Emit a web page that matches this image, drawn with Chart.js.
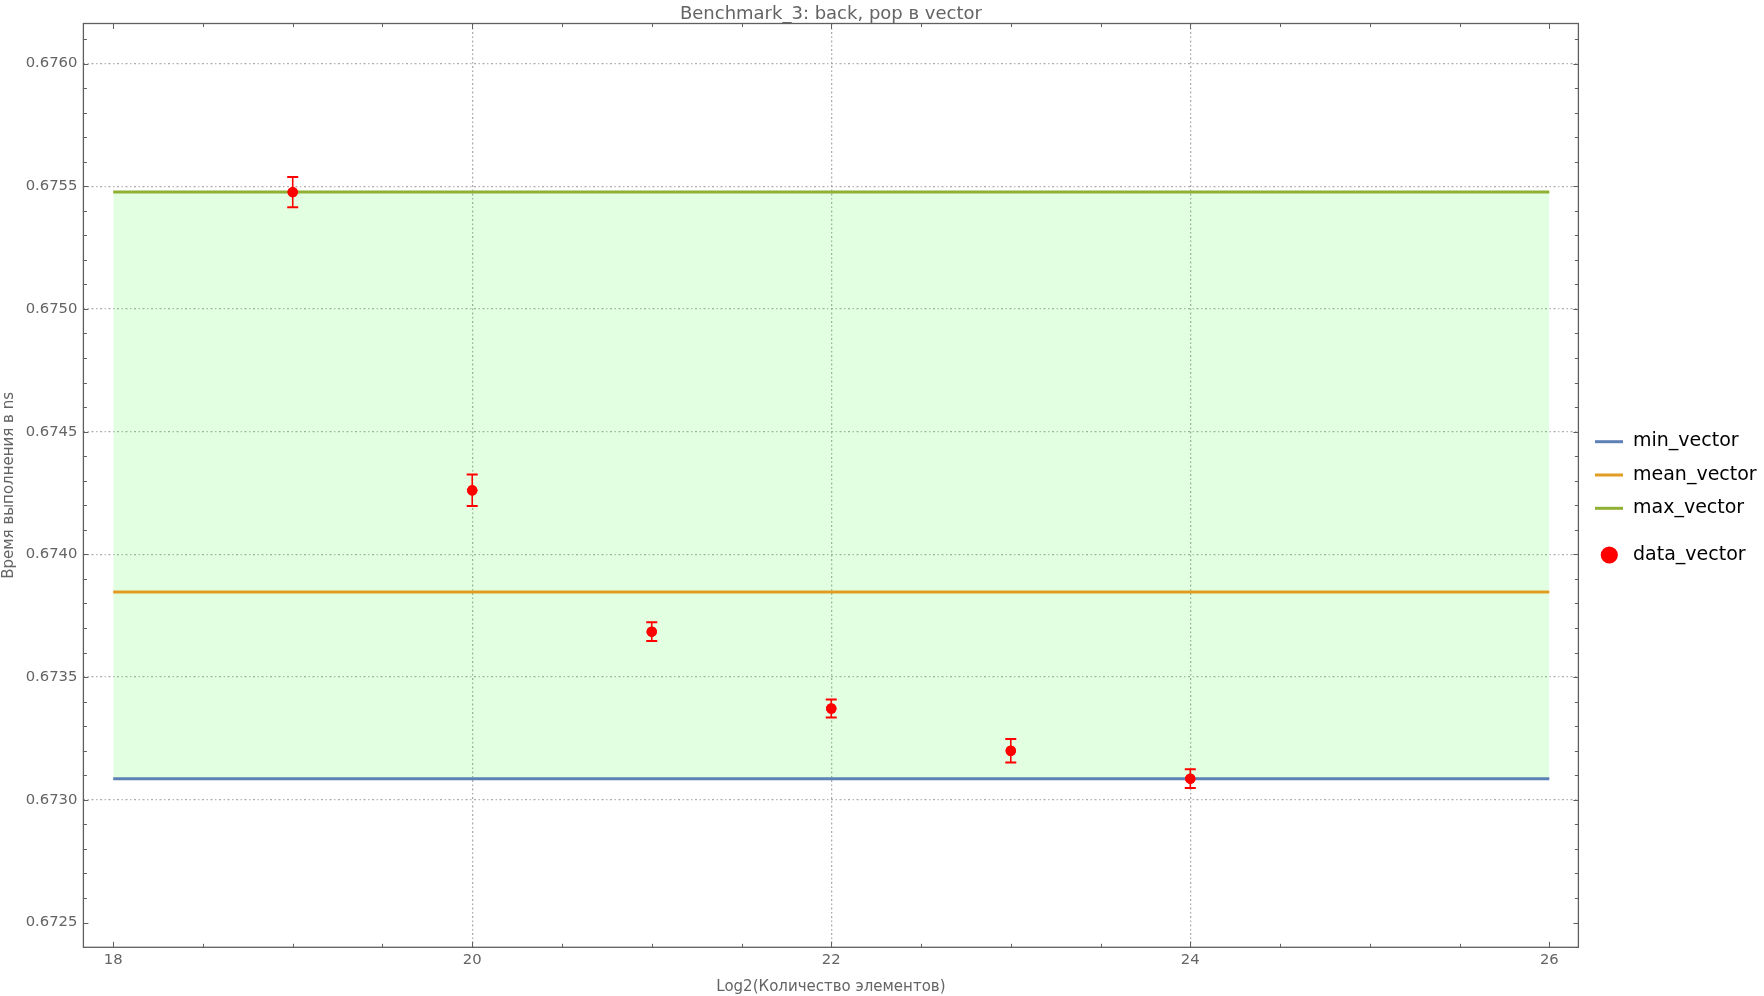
<!DOCTYPE html>
<html>
<head>
<meta charset="utf-8">
<script src="https://cdn.jsdelivr.net/npm/chart.js@4.4.1/dist/chart.umd.min.js"></script>
<style>
  html, body { margin: 0; padding: 0; background: #ffffff; }
  #wrap { width: 1764px; height: 996px; }
</style>
</head>
<body>
<div id="wrap"><canvas id="c" width="1764" height="996"></canvas></div>
<script>
// ---------- data ----------
const chartTitle = "Benchmark_3: back, pop в vector";
const xTitle = "Log2(Количество элементов)";
const yTitle = "Время выполнения в ns";

const xValues   = [19, 20, 21, 22, 23, 24];
const dataVector = [0.675476, 0.674261, 0.673685, 0.673372, 0.673200, 0.673086];
const errVector  = [0.000062, 0.000064, 0.000038, 0.000037, 0.000048, 0.000038];

const lineX      = [18, 26];
const minVector  = [0.673086, 0.673086];
const meanVector = [0.673847, 0.673847];
const maxVector  = [0.675476, 0.675476];

const xTickValues = [18, 20, 22, 24, 26];
const xTickLabels = ["18", "20", "22", "24", "26"];
const yTickValues = [0.6725, 0.6730, 0.6735, 0.6740, 0.6745, 0.6750, 0.6755, 0.6760];
const yTickLabels = ["0.6725", "0.6730", "0.6735", "0.6740", "0.6745", "0.6750", "0.6755", "0.6760"];
const xGridValues = [20, 22, 24];
const yGridValues = [0.6730, 0.6735, 0.6740, 0.6745, 0.6750, 0.6755, 0.6760];

const seriesLabels = ["data_vector", "min_vector", "mean_vector", "max_vector"];

// ---------- styling ----------
const FONT = "'DejaVu Sans', 'Liberation Sans', sans-serif";
const GRAY_TEXT = "#646464";
const FRAME = "#5f5f5f";
const GRID = "#acacac";
const C_MIN = "#5E81B5", C_MEAN = "#E19C24", C_MAX = "#8FB032", C_DATA = "#FF0000";

Chart.defaults.font.family = FONT;
Chart.defaults.color = GRAY_TEXT;

const toPts = (xs, ys) => xs.map((x, i) => ({ x: x, y: ys[i] }));

// error bars plugin
const errorBars = {
  id: 'errorBars',
  afterDatasetsDraw(chart) {
    const meta = chart.getDatasetMeta(0);
    const ys = chart.scales.y;
    const ctx = chart.ctx;
    ctx.save();
    ctx.strokeStyle = C_DATA;
    meta.data.forEach((pt, i) => {
      const x = pt.x;
      const yTop = ys.getPixelForValue(dataVector[i] + errVector[i]);
      const yBot = ys.getPixelForValue(dataVector[i] - errVector[i]);
      ctx.lineWidth = 1.6;
      ctx.beginPath(); ctx.moveTo(x, yTop); ctx.lineTo(x, yBot); ctx.stroke();
      ctx.lineWidth = 2;
      ctx.beginPath();
      ctx.moveTo(x - 5.5, yTop); ctx.lineTo(x + 5.5, yTop);
      ctx.moveTo(x - 5.5, yBot); ctx.lineTo(x + 5.5, yBot);
      ctx.stroke();
    });
    // redraw points on top
    ctx.fillStyle = C_DATA;
    meta.data.forEach((pt) => {
      ctx.beginPath(); ctx.arc(pt.x, pt.y, 5.2, 0, Math.PI * 2); ctx.fill();
    });
    ctx.restore();
  }
};

// frame, ticks, title, legend
const decor = {
  id: 'decor',
  afterDraw(chart) {
    const ctx = chart.ctx;
    const a = chart.chartArea;
    const xs = chart.scales.x, ys = chart.scales.y;
    ctx.save();
    // frame
    ctx.strokeStyle = FRAME;
    ctx.lineWidth = 1.3;
    ctx.strokeRect(a.left, a.top, a.right - a.left, a.bottom - a.top);
    // x ticks (top & bottom, inside)
    ctx.lineWidth = 1;
    ctx.beginPath();
    for (let k = 0; k <= 16; k++) {
      const v = 18 + k * 0.5;
      const px = Math.round(xs.getPixelForValue(v)) + 0.5;
      const len = (k % 4 === 0) ? 5.5 : 3.5;
      ctx.moveTo(px, a.bottom); ctx.lineTo(px, a.bottom - len);
      ctx.moveTo(px, a.top); ctx.lineTo(px, a.top + len);
    }
    // y ticks (left & right, inside)
    for (let k = 0; k <= 37; k++) {
      const v = 0.6724 + k * 0.0001;
      const py = ys.getPixelForValue(v);
      if (py < a.top || py > a.bottom) continue;
      const pyr = Math.round(py) + 0.5;
      const major = (k % 5 === 1);
      const len = major ? 5 : 3.5;
      ctx.moveTo(a.left, pyr); ctx.lineTo(a.left + len, pyr);
      ctx.moveTo(a.right, pyr); ctx.lineTo(a.right - len, pyr);
    }
    ctx.stroke();

    // title
    ctx.fillStyle = GRAY_TEXT;
    ctx.font = "18px " + FONT;
    ctx.textAlign = 'center';
    ctx.textBaseline = 'alphabetic';
    ctx.fillText(chartTitle, (a.left + a.right) / 2, 18.5);

    // legend
    const ds = chart.data.datasets;
    const lx0 = 1595, lx1 = 1623, tx = 1633;
    const rows = [
      { i: 1, y: 441.7 },
      { i: 2, y: 475 },
      { i: 3, y: 508.3 }
    ];
    ctx.font = "19px " + FONT;
    ctx.textAlign = 'left';
    rows.forEach(r => {
      ctx.strokeStyle = ds[r.i].borderColor;
      ctx.lineWidth = 3;
      ctx.beginPath(); ctx.moveTo(lx0, r.y); ctx.lineTo(lx1, r.y); ctx.stroke();
      ctx.fillStyle = '#000000';
      ctx.fillText(ds[r.i].label, tx, r.y + 4.7);
    });
    ctx.fillStyle = ds[0].backgroundColor;
    ctx.beginPath(); ctx.arc(1609.3, 555, 8.6, 0, Math.PI * 2); ctx.fill();
    ctx.fillStyle = '#000000';
    ctx.fillText(ds[0].label, tx, 555 + 4.7);
    ctx.restore();
  }
};

const ctxEl = document.getElementById('c');
new Chart(ctxEl, {
  type: 'scatter',
  data: {
    datasets: [
      {
        label: seriesLabels[0],
        data: toPts(xValues, dataVector),
        backgroundColor: C_DATA,
        borderColor: C_DATA,
        pointRadius: 5.2,
        pointBorderWidth: 0,
        showLine: false
      },
      {
        label: seriesLabels[1],
        type: 'line',
        data: toPts(lineX, minVector),
        borderColor: C_MIN,
        borderWidth: 3,
        pointRadius: 0,
        fill: false
      },
      {
        label: seriesLabels[2],
        type: 'line',
        data: toPts(lineX, meanVector),
        borderColor: C_MEAN,
        borderWidth: 3,
        pointRadius: 0,
        fill: false
      },
      {
        label: seriesLabels[3],
        type: 'line',
        data: toPts(lineX, maxVector),
        borderColor: C_MAX,
        borderWidth: 3,
        pointRadius: 0,
        fill: { target: 1 },
        backgroundColor: 'rgba(0,255,0,0.115)'
      }
    ]
  },
  options: {
    responsive: false,
    animation: false,
    devicePixelRatio: 1,
    layout: { padding: { left: 0, right: 185.6, top: 23.5, bottom: 0 } },
    plugins: {
      legend: { display: false },
      title: { display: false },
      tooltip: { enabled: false },
      filler: { drawTime: 'beforeDatasetsDraw' }
    },
    scales: {
      x: {
        type: 'linear',
        min: 17.834,
        max: 26.162,
        afterFit(scale) { scale.height = 48.7; },
        afterBuildTicks(scale) { scale.ticks = xTickValues.map(v => ({ value: v })); },
        ticks: {
          padding: 4,
          font: { size: 14.8 },
          color: GRAY_TEXT,
          maxRotation: 0,
          autoSkip: false,
          callback: (v) => { const i = xTickValues.indexOf(v); return i >= 0 ? xTickLabels[i] : ''; }
        },
        grid: {
          drawTicks: false,
          lineWidth: 1.3,
          color: (c) => (c.tick && xGridValues.includes(c.tick.value)) ? GRID : 'rgba(0,0,0,0)'
        },
        border: { display: false, dash: [2, 2.6, 1.3, 2.6] },
        title: {
          display: true,
          text: xTitle,
          font: { size: 15 },
          color: GRAY_TEXT,
          padding: { top: 0, bottom: 0 }
        }
      },
      y: {
        type: 'linear',
        min: 0.672399,
        max: 0.676163,
        afterFit(scale) { scale.width = 83.4; },
        afterBuildTicks(scale) { scale.ticks = yTickValues.map(v => ({ value: v })); },
        ticks: {
          padding: 6,
          font: { size: 14.8 },
          color: GRAY_TEXT,
          autoSkip: false,
          callback: (v) => {
            let best = -1, bd = 1;
            yTickValues.forEach((t, i) => { const d = Math.abs(t - v); if (d < bd) { bd = d; best = i; } });
            return bd < 1e-7 ? yTickLabels[best] : '';
          }
        },
        grid: {
          drawTicks: false,
          lineWidth: 1.3,
          color: (c) => (c.tick && yGridValues.some(g => Math.abs(g - c.tick.value) < 1e-7)) ? GRID : 'rgba(0,0,0,0)'
        },
        border: { display: false, dash: [2, 2.6, 1.3, 2.6] },
        title: {
          display: true,
          text: yTitle,
          font: { size: 15 },
          color: GRAY_TEXT,
          padding: { top: 0.5, bottom: 0 }
        }
      }
    }
  },
  plugins: [errorBars, decor]
});
</script>
</body>
</html>
